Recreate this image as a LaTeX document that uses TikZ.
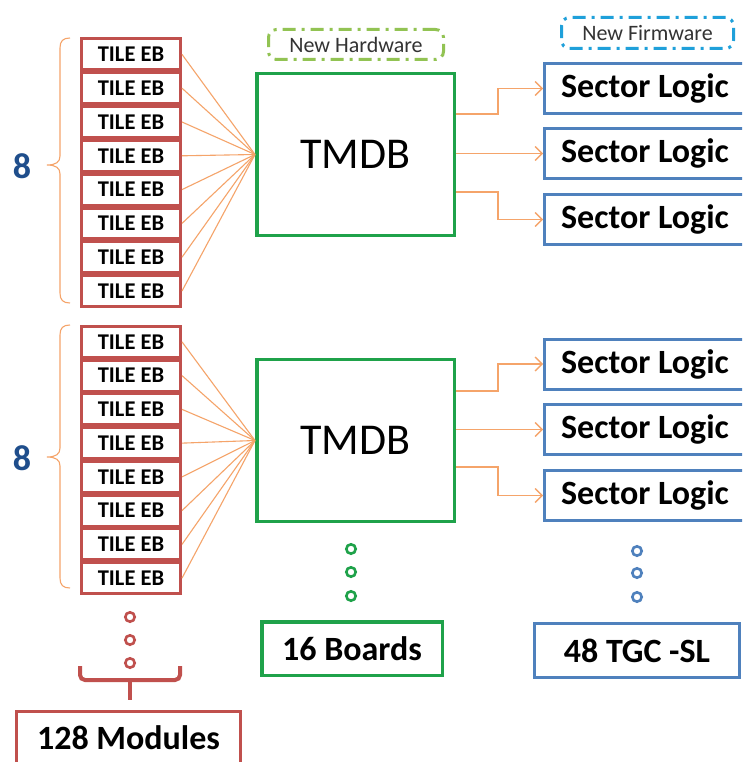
\documentclass[tikz,border=0pt]{standalone}
\usepackage{fontspec}
\setmainfont{Carlito}
\usetikzlibrary{arrows.meta,calc}
\definecolor{tilered}{HTML}{C0504D}
\definecolor{tmdbgreen}{HTML}{1FA24A}
\definecolor{slblue}{HTML}{4F81BD}
\definecolor{hwgreen}{HTML}{92C353}
\definecolor{fwcyan}{HTML}{1FA0DA}
\definecolor{fanorange}{HTML}{F5A46A}
\definecolor{eightblue}{HTML}{1F4E8C}
\tikzset{
  tile/.style={draw=tilered, line width=3pt, rectangle, inner sep=0pt,
    minimum width=99pt, minimum height=30.8pt,
    font=\fontsize{22.5}{24}\selectfont\bfseries},
  tmdbbox/.style={draw=tmdbgreen, line width=3.5pt, rectangle, inner sep=0pt,
    minimum width=197.5pt, minimum height=162pt,
    font=\fontsize{44}{48}\selectfont},
  slbox/.style={draw=slblue, line width=3pt, rectangle, inner sep=0pt,
    minimum width=201pt, minimum height=50pt,
    font=\fontsize{34}{38}\selectfont\bfseries},
  countbox/.style={line width=3pt, rectangle, inner sep=0pt,
    font=\fontsize{34}{38}\selectfont\bfseries},
  tagbox/.style={line width=3pt, rectangle, rounded corners=8pt, inner sep=0pt,
    dash pattern=on 13pt off 6pt on 3pt off 6pt, text=black!80,
    font=\fontsize{22}{24}\selectfont},
  fan/.style={draw=fanorange, line width=1.1pt},
  arr/.style={draw=fanorange, line width=1.3pt,
    -{Straight Barb[length=7pt,width=14pt,line width=1.3pt]}},
  bracefan/.style={draw=fanorange, line width=1.1pt},
  eight/.style={text=eightblue, font=\fontsize{36}{40}\selectfont\bfseries},
  dotc/.style={line width=2.6pt},
}
\begin{document}
\begin{tikzpicture}[x=1pt,y=-1pt]
\clip (0,0) rectangle (742,762);
\fill[white] (0,0) rectangle (742,762);

% tags
\node[tagbox, draw=hwgreen, minimum width=175pt, minimum height=30pt] (hw) at (356,44.5) {New Hardware};
\node[tagbox, draw=fwcyan, minimum width=172pt, minimum height=31pt] (fw) at (647.5,33) {New Firmware};

% TILE EB columns
\foreach \i in {1,...,8} {
  \node[tile] (a\i) at (131,{37.5+33.8*(\i-0.5)}) {TILE EB};
  \node[tile] (b\i) at (131,{325+33.75*(\i-0.5)}) {TILE EB};
}

% TMDB boxes
\node[tmdbbox] (tmdb1) at (355.5,154.5) {TMDB};
\node[tmdbbox] (tmdb2) at (355.5,440.5) {TMDB};

% Sector Logic boxes
\node[slbox] (s1) at (645,88.5) {Sector Logic};
\node[slbox] (s2) at (645,153.5) {Sector Logic};
\node[slbox] (s3) at (645,219.5) {Sector Logic};
\node[slbox] (s4) at (645,364) {Sector Logic};
\node[slbox] (s5) at (645,429.5) {Sector Logic};
\node[slbox] (s6) at (645,495.5) {Sector Logic};

% fan-in lines
\foreach \i in {1,...,8} {
  \draw[fan] (a\i.east) -- (tmdb1.west);
  \draw[fan] (b\i.east) -- (tmdb2.west);
}

% outputs
\draw[arr] ([yshift=40.5pt]tmdb1.east) -- ++(42,0) |- (s1.west);
\draw[arr] (tmdb1.east |- s2.west) -- (s2.west);
\draw[arr] ([yshift=-37.5pt]tmdb1.east) -- ++(42,0) |- (s3.west);
\draw[arr] ([yshift=49.5pt]tmdb2.east) -- ++(42,0) |- (s4.west);
\draw[arr] (tmdb2.east |- s5.west) -- (s5.west);
\draw[arr] ([yshift=-26.5pt]tmdb2.east) -- ++(42,0) |- (s6.west);

% braces and counts
\draw[bracefan] (70,38) .. controls (63,38) and (60,41) .. (60,48) -- (60,156)
  .. controls (60,162) and (56,165) .. (47,165)
  .. controls (56,165) and (60,168) .. (60,174) -- (60,293)
  .. controls (60,300) and (63,303) .. (70,303);
\draw[bracefan] (70,325) .. controls (63,325) and (60,328) .. (60,335) -- (60,448)
  .. controls (60,454) and (56,457) .. (47,457)
  .. controls (56,457) and (60,460) .. (60,466) -- (60,578)
  .. controls (60,585) and (63,588) .. (70,588);
\node[eight] (n1) at (22,166) {8};
\node[eight] (n2) at (22,458) {8};

% continuation dots
\foreach \y in {617,640,663} \draw[dotc, draw=tilered] (130,\y) circle[radius=4.7];
\foreach \y in {549,572,596} \draw[dotc, draw=tmdbgreen] (351,\y) circle[radius=4.7];
\foreach \y in {551,573,597} \draw[dotc, draw=slblue] (637,\y) circle[radius=4.7];

% bottom bracket
\draw[draw=tilered, line width=4pt, rounded corners=5pt] (80,666) -- (80,680) -- (180,680) -- (180,666);
\draw[draw=tilered, line width=4pt] (130,680) -- (130,700);

% totals
\node[countbox, draw=tilered, minimum width=224pt, minimum height=53pt] (mods) at (128.5,738) {128 Modules};
\node[countbox, draw=tmdbgreen, line width=3.5pt, minimum width=180.5pt, minimum height=53.5pt] (boards) at (352,648.5) {16 Boards};
\node[countbox, draw=slblue, minimum width=205pt, minimum height=54pt] (tgc) at (637,650.5) {48 TGC -SL};
\end{tikzpicture}
\end{document}
